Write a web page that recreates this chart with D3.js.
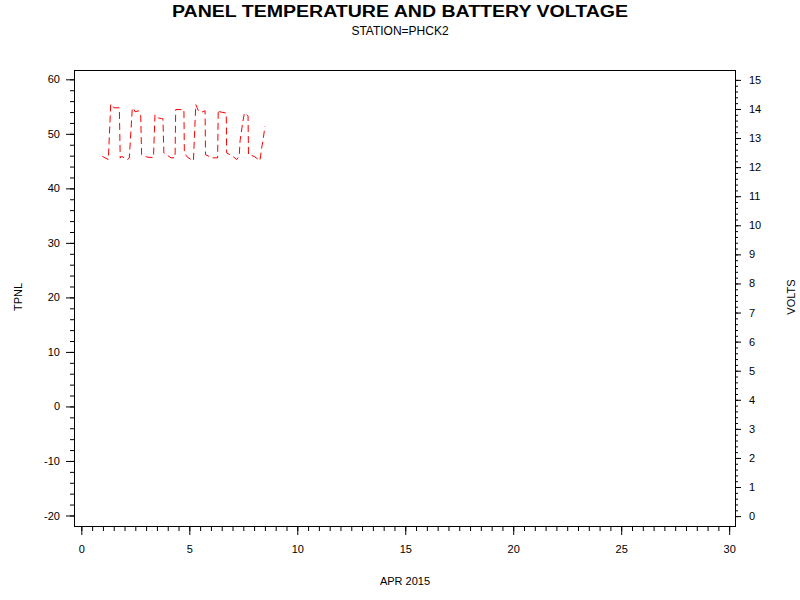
<!DOCTYPE html>
<html lang="en">
  <head>
    <meta charset="utf-8">
    <title>Panel Temperature and Battery Voltage</title>
    <style type="text/css">
      body{
        margin: 0;
        background: white;
      }
      text{
        font-family: "Liberation Sans", Arial, sans-serif;
        fill: black;
      }
      .title{
        font-size: 16px;
        font-weight: bold;
      }
      .subtitle{
        font-size: 12px;
      }
      .axis text{
        font-size: 11px;
      }
      .label{
        font-size: 11px;
      }
    </style>
    <script src="https://cdn.jsdelivr.net/npm/d3@7"></script>
  </head>
  <body>
    <div class="chart"></div>
    <script type="text/javascript">
      //day of april (fractional) for each battery voltage reading
      var voltDays = [0.97, 1.25, 1.36, 1.41, 1.51, 1.76, 1.80, 1.87, 2.13, 2.22, 2.36, 2.41, 2.49, 2.64, 2.69,
        2.75, 2.79, 3.07, 3.34, 3.41, 3.56, 3.72, 3.78, 3.82, 4.15, 4.34, 4.37, 4.75, 4.77, 4.91, 5.19,
        5.30, 5.42, 5.57, 5.73, 5.75, 6.04, 6.31, 6.34, 6.42, 6.71, 6.73, 7.07, 7.19, 7.31, 7.35, 7.47,
        7.55, 7.66, 7.72, 7.74, 8.00, 8.27, 8.35, 8.43, 8.50];

      //battery voltage readings
      var voltValues = [12.37, 12.26, 14.15, 14.17, 14.04, 14.04, 12.31, 12.37, 12.26, 12.31, 14.03, 14.03, 13.90, 13.94, 13.86,
        13.76, 12.43, 12.34, 12.33, 13.80, 13.69, 13.67, 13.66, 12.49, 12.32, 12.32, 13.98, 13.98, 12.49, 12.34, 12.22,
        14.15, 13.94, 13.89, 13.94, 12.43, 12.32, 12.32, 13.98, 13.90, 13.86, 12.49, 12.34, 12.26, 12.37, 12.90, 13.52,
        13.86, 13.81, 13.76, 12.43, 12.37, 12.22, 12.66, 13.00, 13.40];

      //tick labels
      var dayTicks = [0, 5, 10, 15, 20, 25, 30];
      var tempTicks = [-20, -10, 0, 10, 20, 30, 40, 50, 60];
      var voltTicks = [0, 1, 2, 3, 4, 5, 6, 7, 8, 9, 10, 11, 12, 13, 14, 15];

      //text
      var title = "PANEL TEMPERATURE AND BATTERY VOLTAGE";
      var subtitle = "STATION=PHCK2";
      var xLabel = "APR 2015";
      var yLabel = "TPNL";
      var y2Label = "VOLTS";

      var margin = {top: 70, right: 65, bottom: 74, left: 74};
      var width = 800 - margin.left - margin.right;
      var height = 600 - margin.top - margin.bottom;

      //plain hyphen for negatives, like the original
      var plain = d => String(d);

      var svg = d3.select(".chart")
        .append("svg")
        .attr("width", 800)
        .attr("height", 600);

      var plot = svg.append("g")
        .attr("transform", "translate(" + margin.left + "," + margin.top + ")");

      //scaller for days
      var x = d3.scaleLinear()
        .domain([-0.34, 30.27])
        .range([0, width]);

      //scaller for the left temperature axis
      var yTemp = d3.scaleLinear()
        .domain([-21.93, 61.71])
        .range([height, 0]);

      //scaller for the right voltage axis
      var yVolt = d3.scaleLinear()
        .domain([-0.34, 15.34])
        .range([height, 0]);

      //minor ticks first, majors drawn on top
      plot.append("g")
        .attr("class", "axis")
        .attr("transform", `translate(0, ${height})`)
        .call(d3.axisBottom(x).tickValues(d3.range(0, 30.01, 0.5)).tickSize(5).tickFormat(""));
      plot.append("g")
        .attr("class", "axis")
        .attr("transform", `translate(0, ${height})`)
        .call(d3.axisBottom(x).tickValues(dayTicks).tickSize(9).tickPadding(10).tickFormat(plain));

      plot.append("g")
        .attr("class", "axis")
        .call(d3.axisLeft(yTemp).tickValues(d3.range(-20, 60.01, 2)).tickSize(4).tickFormat(""));
      plot.append("g")
        .attr("class", "axis")
        .call(d3.axisLeft(yTemp).tickValues(tempTicks).tickSize(8).tickPadding(6).tickFormat(plain));

      plot.append("g")
        .attr("class", "axis")
        .attr("transform", `translate(${width}, 0)`)
        .call(d3.axisRight(yVolt).tickValues(d3.range(0, 15.01, 0.2)).tickSize(3).tickFormat(""));
      plot.append("g")
        .attr("class", "axis")
        .attr("transform", `translate(${width}, 0)`)
        .call(d3.axisRight(yVolt).tickValues(voltTicks).tickSize(6).tickPadding(8).tickFormat(plain));

      //remove the axis domain lines, the frame replaces them
      plot.selectAll(".axis .domain").remove();
      plot.selectAll(".axis line").attr("stroke", "black");

      //frame round the plot
      plot.append("rect")
        .attr("x", 0.5)
        .attr("y", 0.5)
        .attr("width", width)
        .attr("height", height)
        .attr("fill", "none")
        .attr("stroke", "black");

      //battery voltage line
      var line = d3.line()
        .x(d => x(d[0]))
        .y(d => yVolt(d[1]));

      plot.append("path")
        .datum(voltDays.map((d, i) => [d, voltValues[i]]))
        .attr("d", line)
        .attr("fill", "none")
        .attr("stroke", "#ff0000")
        .attr("stroke-width", 1)
        .attr("stroke-dasharray", "7,4");

      //titles
      svg.append("text")
        .attr("class", "title")
        .attr("x", 400)
        .attr("y", 17)
        .attr("text-anchor", "middle")
        .attr("textLength", 456)
        .attr("lengthAdjust", "spacingAndGlyphs")
        .text(title);

      svg.append("text")
        .attr("class", "subtitle")
        .attr("x", 400)
        .attr("y", 35)
        .attr("text-anchor", "middle")
        .text(subtitle);

      //axis labels
      svg.append("text")
        .attr("class", "label")
        .attr("x", 405)
        .attr("y", 585)
        .attr("text-anchor", "middle")
        .text(xLabel);

      svg.append("text")
        .attr("class", "label")
        .attr("transform", "translate(22, 297) rotate(-90)")
        .attr("text-anchor", "middle")
        .text(yLabel);

      svg.append("text")
        .attr("class", "label")
        .attr("transform", "translate(795, 297) rotate(-90)")
        .attr("text-anchor", "middle")
        .text(y2Label);
    </script>
  </body>
</html>
